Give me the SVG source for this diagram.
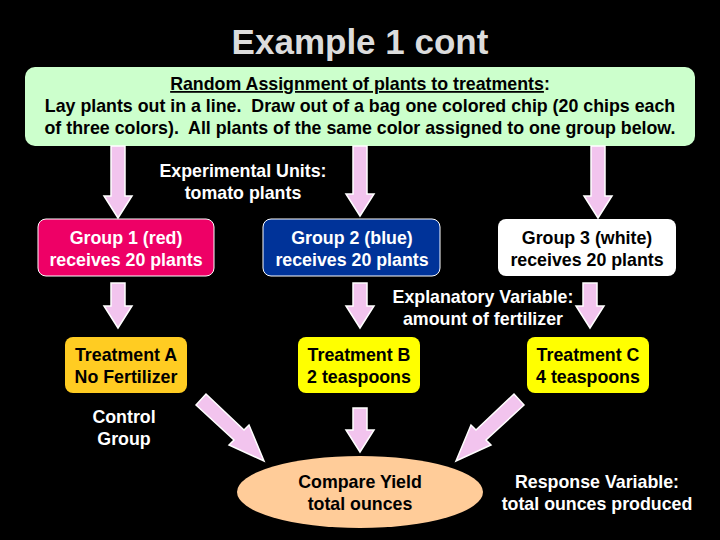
<svg xmlns="http://www.w3.org/2000/svg" width="720" height="540" viewBox="0 0 720 540">
<style>
text{font-family:"Liberation Sans",Arial,sans-serif;font-weight:bold;font-size:17.8px;text-anchor:middle}
.w{fill:#fff}.k{fill:#000}
.ar{fill:#f2c4ee;stroke:#fff;stroke-width:1.5}
.bx{stroke:#fff;stroke-width:1}
</style>
<rect width="720" height="540" fill="#000"/>
<text x="360" y="54" style="font-size:35px;fill:#dcdcdc">Example 1 cont</text>
<g id="assign">
<rect x="25" y="67" width="670" height="79" rx="10" fill="#ccffcc"/>
<text x="360" y="90" class="k"><tspan text-decoration="underline">Random Assignment of plants to treatments</tspan>:</text>
<text x="360" y="112" class="k" xml:space="preserve">Lay plants out in a line.  Draw out of a bag one colored chip (20 chips each</text>
<text x="360" y="134" class="k" xml:space="preserve">of three colors).  All plants of the same color assigned to one group below.</text>
</g>
<g id="connectors" class="ar">
<path d="M111,146 H125 V196 H132 L118,218 L104,196 H111 Z"/>
<path d="M353,146 H367 V194 H374 L360,216 L346,194 H353 Z"/>
<path d="M591,146 H605 V196 H612 L598,218 L584,196 H591 Z"/>
<path d="M111,283 H125 V306 H132 L118,328 L104,306 H111 Z"/>
<path d="M353,283 H367 V306 H374 L360,328 L346,306 H353 Z"/>
<path d="M583,283 H597 V306 H604 L590,328 L576,306 H583 Z"/>
<path d="M353,408 H367 V430 H374 L360,452 L346,430 H353 Z"/>
<path d="M196,405 L206,394 L244,430 L249,425 L264,461 L229,445 L234,440 Z"/>
<path d="M524,405 L514,394 L476,430 L471,425 L456,461 L491,445 L486,440 Z"/>
</g>
<text x="243" y="177" class="w">Experimental Units:</text>
<text x="243" y="199" class="w">tomato plants</text>
<g id="g1"><rect class="bx" x="38" y="219" width="176" height="57" rx="8" fill="#ee0066"/>
<text x="126" y="244" class="w">Group 1 (red)</text><text x="126" y="266" class="w">receives 20 plants</text></g>
<g id="g2"><rect class="bx" x="263" y="219" width="177" height="57" rx="8" fill="#003399"/>
<text x="352" y="244" class="w">Group 2 (blue)</text><text x="352" y="266" class="w">receives 20 plants</text></g>
<g id="g3"><rect x="498" y="219" width="178" height="57" rx="8" fill="#fff"/>
<text x="587" y="244" class="k">Group 3 (white)</text><text x="587" y="266" class="k">receives 20 plants</text></g>
<text x="483" y="303" class="w">Explanatory Variable:</text>
<text x="483" y="325" class="w">amount of fertilizer</text>
<g id="ta"><rect x="65" y="337" width="122" height="56" rx="8" fill="#ffcc22"/>
<text x="126" y="361" class="k">Treatment A</text><text x="126" y="383" class="k">No Fertilizer</text></g>
<g id="tb"><rect x="298" y="337" width="122" height="56" rx="8" fill="#ffff00"/>
<text x="359" y="361" class="k">Treatment B</text><text x="359" y="383" class="k">2 teaspoons</text></g>
<g id="tc"><rect x="527" y="337" width="122" height="56" rx="8" fill="#ffff00"/>
<text x="588" y="361" class="k">Treatment C</text><text x="588" y="383" class="k">4 teaspoons</text></g>
<text x="124" y="423" class="w">Control</text>
<text x="124" y="445" class="w">Group</text>
<g id="cmp"><ellipse cx="360" cy="492" rx="123" ry="36" fill="#ffcc99"/>
<text x="360" y="488" class="k">Compare Yield</text><text x="360" y="510" class="k">total ounces</text></g>
<text x="597" y="488" class="w">Response Variable:</text>
<text x="597" y="510" class="w">total ounces produced</text>
</svg>
